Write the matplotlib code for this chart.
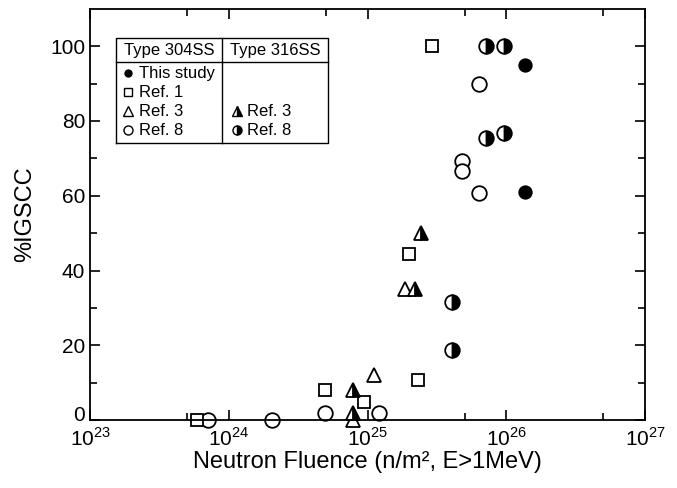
import numpy as np
import matplotlib.pyplot as plt
from matplotlib.ticker import FixedLocator, NullFormatter
from matplotlib.transforms import ScaledTranslation

plt.rcParams['font.family'] = ['Liberation Sans', 'DejaVu Sans']
plt.rcParams['mathtext.fontset'] = 'custom'
plt.rcParams['mathtext.rm'] = 'Liberation Sans'

# Type 304SS
study_x = [1.36e26, 1.36e26]
study_y = [95, 61]

ref1_x = [2.9e25, 2.0e25, 2.3e25, 4.9e24, 9.4e24, 5.9e23]
ref1_y = [100, 44.5, 10.7, 8, 4.8, 0]

ref3_x = [1.12e25, 1.86e25, 7.9e24]
ref3_y = [12, 35, 0]

ref8_x = [7.1e23, 2.05e24, 4.9e24, 1.2e25, 6.3e25, 4.8e25, 4.8e25, 6.3e25]
ref8_y = [0, 0, 2, 2, 90, 69.3, 66.5, 60.7]

# Type 316SS
ref3b_x = [2.43e25, 2.2e25, 7.9e24, 7.9e24]
ref3b_y = [50, 35, 8, 2]

ref8b_x = [7.1e25, 9.6e25, 7.1e25, 9.6e25, 4.07e25, 4.07e25]
ref8b_y = [100, 100, 75.5, 76.8, 31.6, 18.8]

fig = plt.figure(figsize=(6.77, 4.88), dpi=100)
ax = fig.add_axes([0.133, 0.139, 0.820, 0.843])

kw = dict(linestyle='none', color='black', markeredgewidth=1.3, clip_on=False)
ax.plot(ref8_x, ref8_y, marker='o', markersize=10.5, markerfacecolor='white', **kw)
ax.plot(ref1_x, ref1_y, marker='s', markersize=8.5, markerfacecolor='white', **kw)
ax.plot(ref3_x, ref3_y, marker='^', markersize=10, markerfacecolor='white', **kw)
ax.plot(ref3b_x, ref3b_y, marker='^', markersize=10, fillstyle='right',
        markerfacecolor='black', markerfacecoloralt='white', **kw)
ax.plot(ref8b_x, ref8b_y, marker='o', markersize=10.5, fillstyle='right',
        markerfacecolor='black', markerfacecoloralt='white', **kw)
ax.plot(study_x, study_y, marker='o', markersize=9, markerfacecolor='black', **kw)

ax.set_xscale('log')
ax.set_xlim(1e23, 1e27)
ax.set_ylim(0, 110)

ax.xaxis.set_major_locator(FixedLocator([1e23, 1e24, 1e25, 1e26, 1e27]))
ax.xaxis.set_minor_locator(FixedLocator([5e23, 5e24, 5e25, 5e26]))
ax.xaxis.set_minor_formatter(NullFormatter())
ax.set_xticklabels([r'$10^{23}$', r'$10^{24}$', r'$10^{25}$', r'$10^{26}$', r'$10^{27}$'])
ax.set_yticks([0, 20, 40, 60, 80, 100])
ax.set_yticks(np.arange(10, 100, 20), minor=True)

ax.tick_params(which='both', direction='in', top=True, right=True, labelsize=15, width=1.2)
ax.tick_params(which='major', length=7)
ax.tick_params(which='minor', length=5)
ax.tick_params(axis='x', pad=5)
for s in ax.spines.values():
    s.set_linewidth(1.3)

# lift the "0" label a little so it clears 10^23
lab0 = ax.get_yticklabels()[0]
lab0.set_transform(lab0.get_transform() + ScaledTranslation(0, 5 / 72, fig.dpi_scale_trans))

ax.set_xlabel('Neutron Fluence (n/m², E>1MeV)', fontsize=17, labelpad=1)
ax.set_ylabel('%IGSCC', fontsize=17, labelpad=10)

# legend table
x0, x1, xm = 0.047, 0.429, 0.238
y0, y1, yh = 0.673, 0.928, 0.870
ax.plot([x0, x1, x1, x0, x0], [y0, y0, y1, y1, y0], color='black', lw=1.0, transform=ax.transAxes)
ax.plot([xm, xm], [y0, y1], color='black', lw=1.0, transform=ax.transAxes)
ax.plot([x0, x1], [yh, yh], color='black', lw=1.0, transform=ax.transAxes)
ax.text((x0 + xm) / 2, 0.899, 'Type 304SS', ha='center', va='center', fontsize=12, transform=ax.transAxes)
ax.text((xm + x1) / 2, 0.899, 'Type 316SS', ha='center', va='center', fontsize=12, transform=ax.transAxes)

rows_y = [0.843, 0.797, 0.751, 0.705]
mx, tx = 0.068, 0.088
mx2, tx2 = 0.265, 0.283
lk = dict(linestyle='none', color='black', markeredgewidth=1.0, transform=ax.transAxes)
ax.plot(mx, rows_y[0], marker='o', markersize=5, markerfacecolor='black', **lk)
ax.plot(mx, rows_y[1], marker='s', markersize=6, markerfacecolor='white', **lk)
ax.plot(mx, rows_y[2], marker='^', markersize=7, markerfacecolor='white', **lk)
ax.plot(mx, rows_y[3], marker='o', markersize=6.5, markerfacecolor='white', **lk)
ax.plot(mx2, rows_y[2], marker='^', markersize=7, fillstyle='right',
        markerfacecolor='black', markerfacecoloralt='white', **lk)
ax.plot(mx2, rows_y[3], marker='o', markersize=6.5, fillstyle='right',
        markerfacecolor='black', markerfacecoloralt='white', **lk)
for lab, yy in zip(['This study', 'Ref. 1', 'Ref. 3', 'Ref. 8'], rows_y):
    ax.text(tx, yy, lab, ha='left', va='center', fontsize=12, transform=ax.transAxes)
for lab, yy in zip(['Ref. 3', 'Ref. 8'], rows_y[2:]):
    ax.text(tx2, yy, lab, ha='left', va='center', fontsize=12, transform=ax.transAxes)

fig.savefig('out.png', dpi=100)
